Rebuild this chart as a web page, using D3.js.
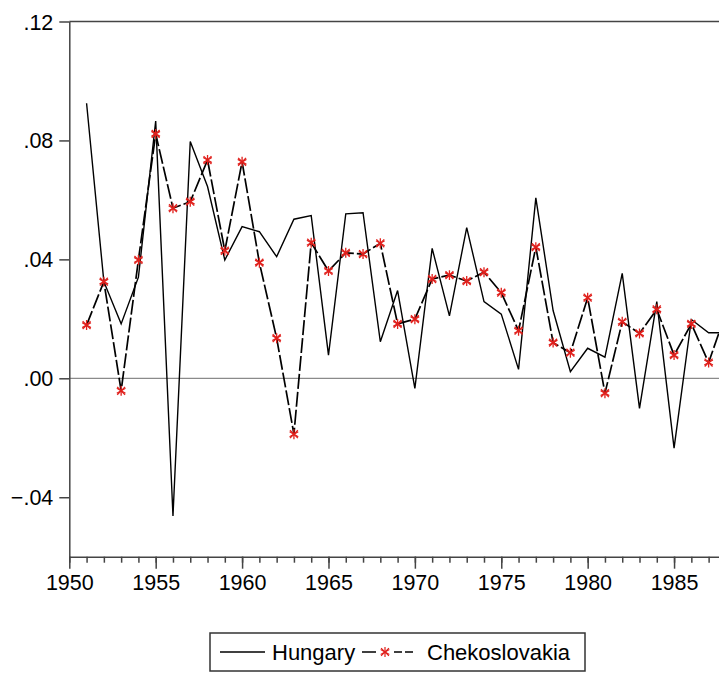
<!DOCTYPE html>
<html>
<head>
<meta charset="utf-8">
<script src="https://cdn.jsdelivr.net/npm/d3@7"></script>
<style>
  body { margin: 0; background: #fff; }
  svg { display: block; }
</style>
</head>
<body>
<div id="chart"></div>
<script>
// years on the x axis
const years = [1951, 1952, 1953, 1954, 1955, 1956, 1957, 1958, 1959, 1960,
  1961, 1962, 1963, 1964, 1965, 1966, 1967, 1968, 1969, 1970,
  1971, 1972, 1973, 1974, 1975, 1976, 1977, 1978, 1979, 1980,
  1981, 1982, 1983, 1984, 1985, 1986, 1987, 1988];

const hungary = [0.0925, 0.0325, 0.0183, 0.034, 0.0865, -0.0463, 0.0796, 0.0645, 0.0398, 0.051,
  0.0493, 0.0409, 0.0535, 0.0547, 0.0078, 0.0553, 0.0557, 0.0123, 0.0295, -0.0034,
  0.0437, 0.021, 0.0507, 0.0258, 0.0216, 0.003, 0.0607, 0.0228, 0.0022, 0.0101,
  0.0071, 0.0353, -0.0101, 0.0258, -0.0235, 0.0198, 0.0153, 0.0153];

const chekoslovakia = [0.0179, 0.0325, -0.0042, 0.0398, 0.0822, 0.0572, 0.0594, 0.0734, 0.0429, 0.0728,
  0.0389, 0.0135, -0.0188, 0.0456, 0.0361, 0.0422, 0.0418, 0.0454, 0.0183, 0.0199,
  0.0334, 0.0347, 0.0327, 0.0357, 0.0288, 0.016, 0.0441, 0.012, 0.0086, 0.0271,
  -0.005, 0.019, 0.0151, 0.0232, 0.0078, 0.0183, 0.0053, 0.022];

const yTicks = [-0.04, 0, 0.04, 0.08, 0.12];
const xMajor = [1950, 1955, 1960, 1965, 1970, 1975, 1980, 1985];
const seriesNames = ["Hungary", "Chekoslovakia"];

const width = 719;
const height = 673;
const font = "'Liberation Sans', Arial, sans-serif";

const svg = d3.select("#chart")
  .append("svg")
  .attr("width", width)
  .attr("height", height);

const x = d3.scaleLinear().domain([1950, 1988]).range([69.3, 725.9]);
const y = d3.scaleLinear().domain([-0.06, 0.12]).range([556.7, 21.5]);

const fmt = (d) => d === 0 ? ".00" : d3.format(".2f")(d).replace("0.", ".");

// zero line
svg.append("line")
  .attr("x1", x(1950)).attr("x2", width)
  .attr("y1", y(0)).attr("y2", y(0))
  .attr("stroke", "#8a8a8a")
  .attr("stroke-width", 1.2);

// top frame
svg.append("line")
  .attr("x1", x(1950)).attr("x2", width)
  .attr("y1", y(0.12)).attr("y2", y(0.12))
  .attr("stroke", "#444")
  .attr("stroke-width", 1.5);

// y axis
const yAxis = svg.append("g")
  .attr("transform", `translate(${x(1950)},0)`)
  .call(d3.axisLeft(y).tickValues(yTicks).tickFormat(fmt).tickSize(10).tickSizeOuter(0).tickPadding(6));

// x axis: yearly minor ticks, longer ticks every 5 years
const xAxis = svg.append("g")
  .attr("transform", `translate(0,${y(-0.06)})`)
  .call(d3.axisBottom(x).tickValues(d3.range(1950, 1989)).tickFormat("").tickSize(6).tickSizeOuter(0));

const xAxisMajor = svg.append("g")
  .attr("transform", `translate(0,${y(-0.06)})`)
  .call(d3.axisBottom(x).tickValues(xMajor).tickFormat(d3.format("d")).tickSize(12).tickPadding(6));
xAxisMajor.select(".domain").remove();

[yAxis, xAxis, xAxisMajor].forEach((g) => {
  g.selectAll(".domain, line").attr("stroke", "#444").attr("stroke-width", 1.5);
  g.selectAll("text")
    .attr("fill", "#000")
    .style("font-family", font)
    .style("font-size", "21.5px");
});
yAxis.selectAll("text").attr("dy", "0.35em");

// series lines
const line = (vals) => d3.line()
  .x((d, i) => x(years[i]))
  .y((d) => y(d))(vals);

svg.append("path")
  .attr("d", line(hungary))
  .attr("fill", "none")
  .attr("stroke", "#000")
  .attr("stroke-width", 1.4);

svg.append("path")
  .attr("d", line(chekoslovakia))
  .attr("fill", "none")
  .attr("stroke", "#000")
  .attr("stroke-width", 1.7)
  .attr("stroke-dasharray", "15,3");

const star = d3.symbol().type(d3.symbolAsterisk).size(70);
const starX = d3.symbol().type(d3.symbolTimes).size(42);

const stars = svg.append("g")
  .selectAll("g")
  .data(chekoslovakia)
  .enter()
  .append("g")
  .attr("transform", (d, i) => `translate(${x(years[i])},${y(d)})`);
stars.append("path").attr("d", star).attr("fill", "none").attr("stroke", "#e0201c").attr("stroke-width", 1.3);
stars.append("path").attr("d", starX).attr("fill", "none").attr("stroke", "#e0201c").attr("stroke-width", 1.3);

// legend
const legend = svg.append("g");
legend.append("rect")
  .attr("x", 210).attr("y", 633)
  .attr("width", 375).attr("height", 38)
  .attr("fill", "#fff")
  .attr("stroke", "#333")
  .attr("stroke-width", 1.5);

legend.append("line")
  .attr("x1", 220).attr("x2", 265)
  .attr("y1", 652).attr("y2", 652)
  .attr("stroke", "#000").attr("stroke-width", 1.4);

legend.append("text")
  .attr("x", 272).attr("y", 660)
  .style("font-family", font)
  .style("font-size", "22px")
  .text(seriesNames[0]);

legend.append("line")
  .attr("x1", 362).attr("x2", 424)
  .attr("y1", 652).attr("y2", 652)
  .attr("stroke", "#000").attr("stroke-width", 1.6)
  .attr("stroke-dasharray", "14,18,8,3,8");

const ls = legend.append("g").attr("transform", "translate(385,652)");
ls.append("path").attr("d", star).attr("fill", "none").attr("stroke", "#e0201c").attr("stroke-width", 1.2);
ls.append("path").attr("d", starX).attr("fill", "none").attr("stroke", "#e0201c").attr("stroke-width", 1.2);

legend.append("text")
  .attr("x", 427).attr("y", 660)
  .style("font-family", font)
  .style("font-size", "22px")
  .text(seriesNames[1]);
</script>
</body>
</html>
